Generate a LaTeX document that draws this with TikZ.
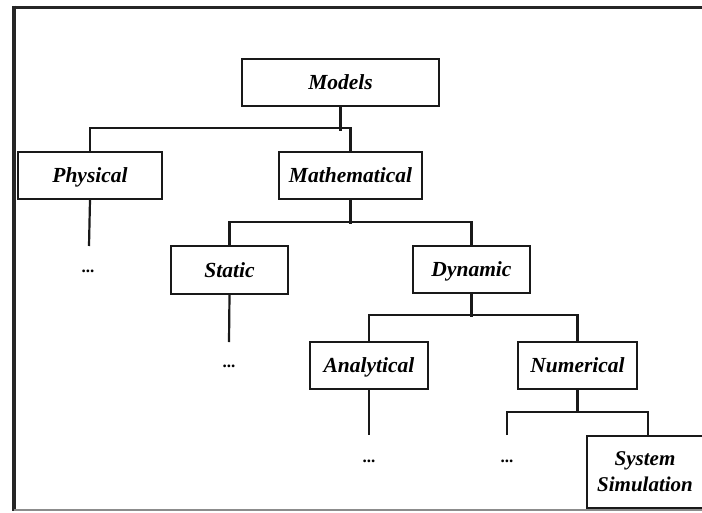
\documentclass[tikz,border=0pt]{standalone}
\usepackage{fontspec}
\setmainfont{Liberation Serif}
\begin{document}
\begin{tikzpicture}[x=1pt,y=-1pt,
  box/.style={draw=black!90,line width=2pt,rectangle,minimum height=47pt,inner sep=0pt,
    text height=19pt,text depth=5pt,
    font=\fontsize{21.5}{23}\selectfont\bfseries\itshape,align=center},
  link/.style={draw=black!90,line width=2.2pt},
  dots/.style={inner sep=0pt,font=\fontsize{17}{18}\selectfont\bfseries}]
\useasboundingbox (0,0) rectangle (702,512);
% frame
\draw[line width=3pt,black!85] (703,7) -- (14,7);
\draw[line width=4pt,black!85] (14,5.5) -- (14,511);
\draw[line width=2pt,black!45] (14,510) -- (703,510);
% nodes
\node[box,minimum width=197pt] (models) at (340.5,82) {Models};
\node[box,minimum width=144pt] (physical) at (90,175.5) {Physical};
\node[box,minimum width=143pt] (math) at (350.5,175.5) {Mathematical};
\node[box,minimum width=117pt,minimum height=48pt] (static) at (229.5,270) {Static};
\node[box,minimum width=117pt] (dynamic) at (471.5,269.5) {Dynamic};
\node[box,minimum width=118pt] (analytical) at (369,365.5) {Analytical};
\node[box,minimum width=119pt] (numerical) at (577.5,365.5) {Numerical};
\node[box,minimum width=116pt,minimum height=72pt,text height=,text depth=,
  font=\fontsize{21}{26}\selectfont\bfseries\itshape] (sys) at (645,472) {System\\Simulation};
% dots
\node[dots] (d1) at (88,271) {...};
\node[dots] (d2) at (229,366) {...};
\node[dots] (d3) at (369,461) {...};
\node[dots] (d4) at (507,461) {...};
\coordinate (e1) at (89,246);
\coordinate (e2) at (229,342);
\coordinate (e3) at (369,435);
\coordinate (e4) at (507,435);
% connectors
\draw[link] (models.south) -- ++(0,24);
\draw[link] (physical.north) -- ++(0,-23) -| (math.north);
\draw[link] (physical.south) -- (e1);
\draw[link] (math.south) -- ++(0,24);
\draw[link] (static.north) -- ++(0,-23) -| (dynamic.north);
\draw[link] (static.south) -- (e2);
\draw[link] (dynamic.south) -- ++(0,23);
\draw[link] (analytical.north) -- ++(0,-26) -| (numerical.north);
\draw[link] (analytical.south) -- (e3);
\draw[link] (numerical.south) -- ++(0,23);
\draw[link] (e4) -- ++(0,-23) -| ([xshift=3pt]sys.north);
\end{tikzpicture}
\end{document}
